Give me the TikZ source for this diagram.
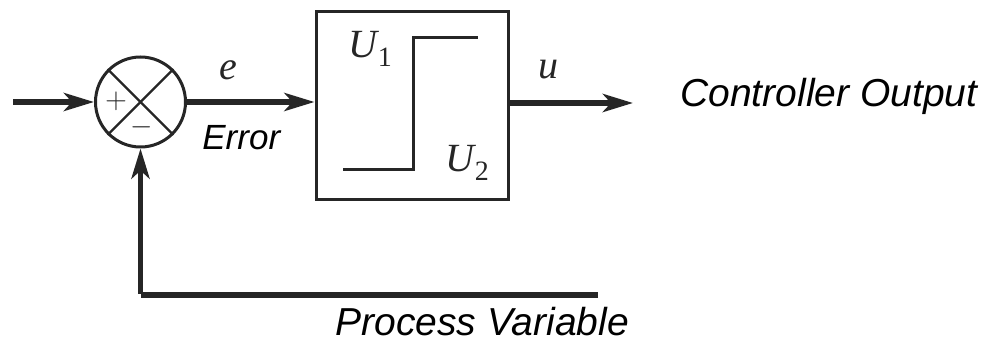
\documentclass[tikz,border=0pt]{standalone}
\usepackage{fontspec}
\newfontfamily\arialit[ItalicFont={Liberation Sans Italic}]{Liberation Sans}
\newfontfamily\tms{Liberation Serif}
\usetikzlibrary{arrows.meta}
\newcommand{\subU}[1]{{\tms\itshape U}\kern0.5pt\raisebox{-0.45ex}{\tms\upshape\fontsize{14}{16}\selectfont #1}}
\tikzset{
  ln/.style={draw=black!85, line width=1.5pt},
  sig/.style={draw=black!85, line width=2.8pt, -{Stealth[length=15pt,width=9pt,inset=4pt]}},
  sigplain/.style={draw=black!85, line width=2.8pt},
  lab/.style={font=\arialit\itshape\fontsize{19.5}{22}\selectfont, inner sep=0pt},
  mlab/.style={font=\tms\itshape\fontsize{20}{22}\selectfont, inner sep=0pt, text=black!85},
}
\begin{document}
\begin{tikzpicture}[x=0.5pt,y=-0.5pt]
\useasboundingbox (0,0) rectangle (988,357);
% summing junction
\node[ln, circle, minimum size=45pt, inner sep=0pt] (sum) at (140.5,102) {};
\draw[ln, line width=1.1pt] (sum.45) -- (sum.225);
\draw[ln, line width=1.1pt] (sum.135) -- (sum.315);
\node[inner sep=0pt, font=\fontsize{15}{18}\selectfont, text=black!85] (plus) at (116,101) {$+$};
\node[inner sep=0pt, font=\fontsize{15}{18}\selectfont, text=black!85] (minus) at (142,127) {$-$};
% controller block
\node[ln, rectangle, minimum width=96pt, minimum height=94pt, inner sep=0pt] (ctrl) at (412,106) {};
\draw[ln] (343,170) -- (413,170) -- (413,38) -- (478,38);
\node[mlab] (u1) at (370,49) {\subU{1}};
\node[mlab] (u2) at (467,163) {\subU{2}};
% coordinates
\coordinate (in) at (13,102);
\coordinate (out) at (633,103);
\coordinate (fbend) at (598,295);
\coordinate (fbcorner) at (140.5,295);
% connectors
\draw[sig] (in) -- (sum.west);
\draw[sig] (sum.east) -- (sum.east -| ctrl.west);
\draw[sig] (ctrl.east |- out) -- (out);
\draw[sigplain] (fbend) -- (fbcorner);
\draw[sig] ([yshift=0.7pt]fbcorner) -- (sum.south);
% labels
\node[mlab] (e) at (228,70) {e};
\node[mlab] (u) at (548,70) {u};
\node[lab, anchor=base west, font=\arialit\itshape\fontsize{17.5}{20}\selectfont] (err) at (202,150) {Error};
\node[lab, anchor=base west] (co) at (680,107) {Controller Output};
\node[lab, anchor=base west] (pv) at (335,335) {Process Variable};
\end{tikzpicture}
\end{document}
